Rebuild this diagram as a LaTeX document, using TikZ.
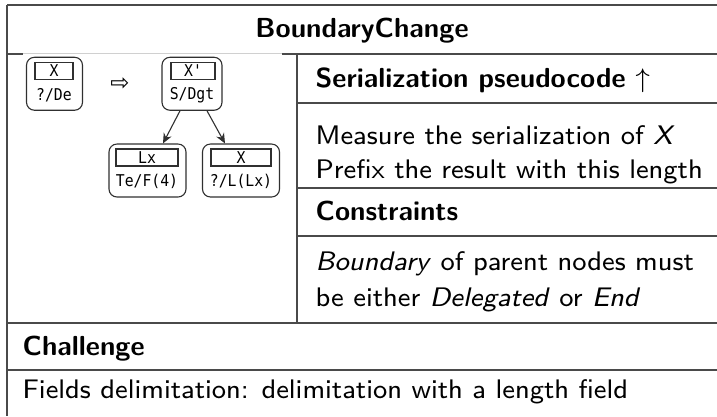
\documentclass[tikz,border=0pt]{standalone}
\usepackage{fontspec}
\usepackage{graphicx}
\usetikzlibrary{arrows.meta}
\newfontfamily\boxmono{DejaVu Sans Mono}
\newfontfamily\symfont{DejaVu Sans}
\definecolor{rulegray}{HTML}{4A4A4A}
\definecolor{faintrule}{HTML}{D0D0D0}
\definecolor{treegray}{HTML}{303030}

% one drawing unit
\newdimen\pxu
\pxu=0.298pt

\tikzset{
  rulestyle/.style={draw=rulegray, line width=1.5\pxu},
  cell/.style={anchor=base west, inner sep=0pt, font=\sffamily\fontsize{8}{10}\selectfont},
  headcell/.style={cell, font=\sffamily\bfseries\fontsize{8.2}{10}\selectfont},
  treebox/.style={draw=treegray, line width=1.1\pxu, rounded corners=8\pxu, inner sep=0pt},
  fieldbox/.style={draw=treegray, line width=1.1\pxu, inner sep=0pt},
  monolbl/.style={inner sep=0pt, font=\boxmono\fontsize{4.4}{5}\selectfont},
  treearrow/.style={draw=treegray, line width=1.1\pxu, -{Stealth[length=3pt, width=2.6pt]}},
}
\newcommand{\mono}[1]{\scalebox{1}[1.1]{#1}}

\begin{document}
\begin{tikzpicture}[x=\pxu, y=-\pxu]
  \useasboundingbox (0,0) rectangle (717,416);

  % table rules
  \draw[rulestyle] (7,5) -- (717,5);
  \draw[rulestyle] (7,5) -- (7,416);
  \draw[rulestyle] (7,54) -- (23,54);
  \draw[draw=faintrule, line width=1.5\pxu] (23,53.5) -- (282,53.5);
  \draw[rulestyle] (282,54) -- (717,54);
  \draw[rulestyle] (297,54) -- (297,323);
  \draw[rulestyle] (297,103) -- (717,103);
  \draw[rulestyle] (297,188) -- (717,188);
  \draw[rulestyle] (297,236) -- (717,236);
  \draw[rulestyle] (7,323) -- (717,323);
  \draw[rulestyle] (7,370) -- (717,370);

  % table texts
  \node[headcell, anchor=base] (title) at (362,37) {BoundaryChange};
  \node[headcell] (serhead) at (315,87) {Serialization pseudocode $\uparrow$};
  \node[cell] (ser1) at (315,144) {Measure the serialization of \textit{X}};
  \node[cell] (ser2) at (315,178) {Prefix the result with this length};
  \node[headcell] (conhead) at (315,220) {Constraints};
  \node[cell] (con1) at (315,270) {\textit{Boundary} of parent nodes must};
  \node[cell] (con2) at (315,306) {be either \textit{Delegated} or \textit{End}};
  \node[headcell] (chhead) at (22,355) {Challenge};
  \node[cell] (ch1) at (22,398) {Fields delimitation: delimitation with a length field};

  % tree: original node
  \node[treebox, minimum width=56\pxu, minimum height=53\pxu] (a) at (54.5,83.75) {};
  \node[fieldbox, minimum width=38\pxu, minimum height=17\pxu] (ai) at (54,71) {\mono{\boxmono\fontsize{4.4}{5}\selectfont X}};
  \node[monolbl] (al) at (54,95) {\mono{?/De}};

  % rewriting arrow
  \node[inner sep=0pt, font=\symfont\fontsize{6.8}{7}\selectfont] (rw) at (120,84) {⇨};

  % tree: rewritten parent
  \node[treebox, minimum width=60\pxu, minimum height=53\pxu] (b) at (192,83.75) {};
  \node[fieldbox, minimum width=44\pxu, minimum height=17\pxu] (bi) at (193,71) {\mono{\boxmono\fontsize{4.4}{5}\selectfont X'}};
  \node[monolbl] (bl) at (192,95) {\mono{S/Dgt}};

  % tree: length field
  \node[treebox, minimum width=77\pxu, minimum height=53\pxu] (c) at (147.5,170.5) {};
  \node[fieldbox, minimum width=62\pxu, minimum height=17\pxu] (ci) at (147,157.5) {\mono{\boxmono\fontsize{4.4}{5}\selectfont Lx}};
  \node[monolbl] (cl) at (147,181.5) {\mono{Te/F(4)}};

  % tree: delimited child
  \node[treebox, minimum width=77\pxu, minimum height=53\pxu] (d) at (241,170.5) {};
  \node[fieldbox, minimum width=60\pxu, minimum height=17\pxu] (di) at (241,157.5) {\mono{\boxmono\fontsize{4.4}{5}\selectfont X}};
  \node[monolbl] (dl) at (241,181.5) {\mono{?/L(Lx)}};

  % parent to children
  \coordinate (bs1) at ([xshift=-12\pxu]b.south);
  \coordinate (bs2) at ([xshift=15\pxu]b.south);
  \coordinate (ct) at ([xshift=15.5\pxu]c.north);
  \coordinate (dt) at ([xshift=-16\pxu]d.north);
  \draw[treearrow] (bs1) -- (ct);
  \draw[treearrow] (bs2) -- (dt);
\end{tikzpicture}
\end{document}
